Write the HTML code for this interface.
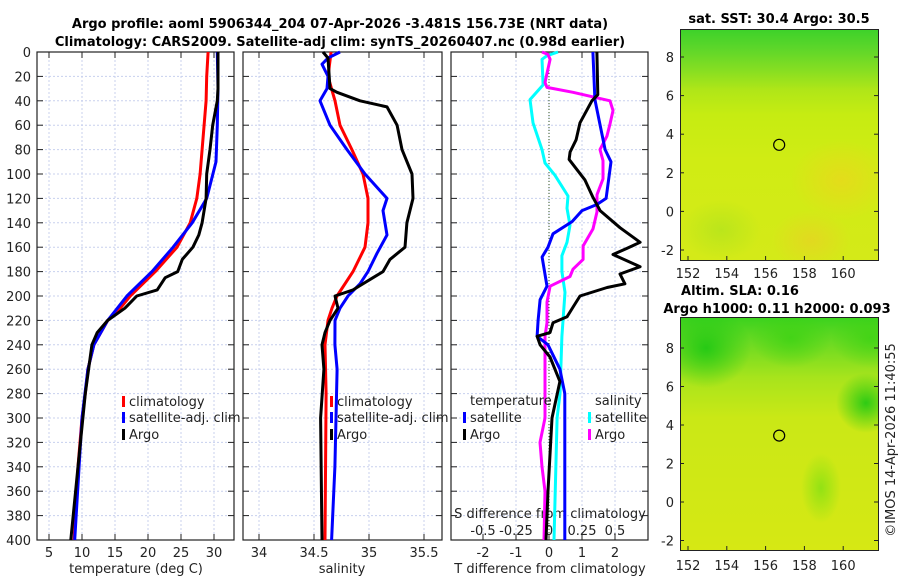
<!DOCTYPE html>
<html><head><meta charset="utf-8">
<style>
html,body{margin:0;padding:0;background:#fff;}
#root{position:relative;width:900px;height:580px;overflow:hidden;font-family:"DejaVu Sans","Liberation Sans",sans-serif;}
svg text{font-family:"DejaVu Sans","Liberation Sans",sans-serif;}
.map{position:absolute;border:1px solid #222;box-sizing:border-box;}
</style></head>
<body>
<div id="root">
<div class="map" style="left:680px;top:29px;width:199px;height:232px;
background:
radial-gradient(ellipse 50px 40px at 160px 150px, rgba(240,210,30,0.6), rgba(240,210,30,0)),
radial-gradient(ellipse 40px 30px at 130px 210px, rgba(240,200,40,0.5), rgba(240,200,40,0)),
radial-gradient(ellipse 40px 30px at 40px 200px, rgba(170,225,30,0.6), rgba(170,225,30,0)),
linear-gradient(to bottom,#3ed22a 0px,#5cd62a 18px,#86de22 40px,#b0e618 60px,#c6ec12 85px,#d0ec14 130px,#d4ea18 232px);"></div>
<div class="map" style="left:680px;top:317px;width:199px;height:234px;
background:
radial-gradient(ellipse 45px 40px at 25px 30px, rgba(30,200,20,0.9), rgba(30,200,20,0)),
radial-gradient(ellipse 30px 30px at 185px 85px, rgba(30,200,20,0.9), rgba(30,200,20,0)),
radial-gradient(ellipse 20px 35px at 140px 170px, rgba(140,225,20,0.9), rgba(140,225,20,0)),
radial-gradient(ellipse 40px 30px at 110px 20px, rgba(60,210,20,0.8), rgba(60,210,20,0)),
radial-gradient(ellipse 40px 30px at 190px 20px, rgba(60,210,20,0.8), rgba(60,210,20,0)),
linear-gradient(to bottom,#3cd21e 0px,#6cda22 25px,#a8e41c 60px,#cae816 100px,#d6e814 234px);"></div>
<svg id="chart" width="900" height="580" style="position:absolute;left:0;top:0"></svg>
</div>
<script>
// ---------- data ----------
const depthTicks=[0,20,40,60,80,100,120,140,160,180,200,220,240,260,280,300,320,340,360,380,400];
const tempTicks=[5,10,15,20,25,30];
const salTicks=[34,34.5,35,35.5];
const salTickLabels=["34","34.5","35","35.5"];
const tdiffTicks=[-2,-1,0,1,2];
const sdiffTickLabels=["-0.5","-0.25","0","0.25","0.5"];
const sdiffTicks=[-0.5,-0.25,0,0.25,0.5];

const tClimDepth=[0,20,40,60,80,100,120,140,160,180,200,210,220,240,260,280,300,340,400];
const tClim=[29.1,28.9,28.8,28.5,28.2,27.9,27.4,26.4,24.4,21.1,17.3,15.8,13.9,11.8,10.9,10.5,10.0,9.4,8.8];
const tSatDepth=[0,30,60,90,120,140,160,180,200,220,240,260,300,400];
const tSat=[30.5,30.6,30.5,30.3,28.9,26.7,23.8,20.6,16.8,13.9,11.8,10.9,10.0,8.9];
const tArgoDepth=[0,30,40,60,80,100,120,140,150,160,170,180,185,195,200,210,220,230,240,280,340,400];
const tArgo=[30.6,30.6,30.5,29.8,29.4,28.9,28.8,28.2,27.7,26.8,25.2,24.5,22.6,21.4,18.3,16.5,13.9,12.3,11.5,10.5,9.4,8.3];

const sClimDepth=[0,20,40,60,80,100,120,140,160,180,200,210,220,240,280,400];
const sClim=[34.655,34.627,34.691,34.736,34.845,34.945,34.991,34.991,34.964,34.855,34.709,34.664,34.627,34.6,34.61,34.6];
const sSatDepth=[0,5,10,20,30,40,60,80,100,120,130,150,165,180,190,200,210,220,240,260,300,340,400];
const sSat=[34.736,34.627,34.573,34.627,34.618,34.555,34.645,34.8,34.964,35.164,35.127,35.164,35.073,34.991,34.918,34.809,34.736,34.691,34.69,34.71,34.7,34.69,34.66];
const sArgoDepth=[0,5,30,33,40,45,60,80,100,120,140,160,170,180,185,195,200,210,220,230,240,260,300,400];
const sArgo=[34.582,34.627,34.645,34.709,34.918,35.164,35.255,35.3,35.391,35.4,35.345,35.327,35.191,35.127,35.036,34.855,34.691,34.718,34.645,34.6,34.573,34.59,34.56,34.573];

const dtSatDepth=[0,39,80,90,120,125,130,139,149,160,168,192,203,220,233,240,260,280,400];
const dtSat=[1.33,1.39,1.70,1.88,1.73,1.45,1.0,0.70,0.12,-0.03,-0.21,-0.06,-0.27,-0.33,-0.36,-0.03,0.33,0.48,0.48];
const dtArgoDepth=[0,35,40,58,72,82,88,105,119,130,144,156,161,166,176,182,190,193,200,209,217,222,230,233,240,250,270,300,360,400];
const dtArgo=[1.45,1.48,1.30,0.94,0.82,0.64,0.61,1.09,1.33,1.55,2.15,2.76,2.36,1.94,2.76,2.15,2.30,1.76,0.94,0.73,0.55,0.12,0.03,-0.36,-0.27,0.03,0.33,0.09,-0.03,-0.09];
const dsSatDepth=[0,3,6,27,39,58,80,91,101,118,128,142,156,167,180,197,233,280,300,400];
const dsSat=[0.068,-0.015,-0.053,-0.045,-0.144,-0.121,-0.053,-0.03,0.045,0.144,0.136,0.159,0.136,0.098,0.098,0.121,0.098,0.083,0.061,0.038];
const dsArgoDepth=[0,2,6,25,29,33,40,48,59,69,80,89,104,117,131,145,159,170,178,184,192,205,222,233,260,300,320,340,360,400];
const dsArgo=[-0.053,-0.008,0.008,-0.03,-0.015,0.182,0.462,0.485,0.462,0.439,0.386,0.409,0.409,0.364,0.364,0.333,0.258,0.258,0.182,0.159,0.008,-0.015,-0.015,-0.03,-0.03,-0.03,-0.068,-0.053,-0.03,-0.038];

const latTicks=[8,6,4,2,0,-2];
const lonTicks=[152,154,156,158,160];
const argoLon=[156.7];
const argoLat=[3.45];

// ---------- axes ----------
const TOP=52,BOT=540;
const yD=d=>TOP+(BOT-TOP)*d/400;
const xT=t=>49+(t-5)*6.6;
const xS=s=>259+(s-34)*110;
const xDT=v=>549+v*33;
const xDS=v=>549+v*132;
const lonX=l=>688+(l-152)*19.4;
const latY1=l=>57+(8-l)*19.3;
const latY2=l=>348+(8-l)*19.25;

const svg=document.getElementById('chart');
const NS='http://www.w3.org/2000/svg';
function el(tag,attrs,parent){const e=document.createElementNS(NS,tag);for(const k in attrs)e.setAttribute(k,attrs[k]);(parent||svg).appendChild(e);return e;}
function txt(x,y,s,attrs,parent){const t=el('text',Object.assign({x:x,y:y,'font-size':13,fill:'#222'},attrs||{}),parent);t.textContent=s;return t;}

const panels=[{l:37,r:234,name:'temperature-panel'},{l:243,r:442,name:'salinity-panel'},{l:451,r:648,name:'difference-panel'}];
panels.forEach((p,i)=>{
  const g=el('g',{});
  
  
  depthTicks.forEach(d=>{
    if(d>0&&d<400) el('line',{x1:p.l,x2:p.r,y1:yD(d),y2:yD(d),stroke:'#c8d0ee','stroke-width':1,'stroke-dasharray':'2,2'},g);
    el('line',{x1:p.l,x2:p.l+6,y1:yD(d),y2:yD(d),stroke:'#222'},g);
    el('line',{x1:p.r-6,x2:p.r,y1:yD(d),y2:yD(d),stroke:'#222'},g);
  });
  let xs=[];
  if(i===0) xs=tempTicks.map(xT);
  if(i===1) xs=salTicks.map(xS);
  if(i===2) xs=tdiffTicks.map(xDT);
  xs.forEach(x=>{
    el('line',{x1:x,x2:x,y1:TOP,y2:BOT,stroke:'#c8d0ee','stroke-width':1,'stroke-dasharray':'2,2'},g);
    el('line',{x1:x,x2:x,y1:BOT-6,y2:BOT,stroke:'#222'},g);
    el('line',{x1:x,x2:x,y1:TOP,y2:TOP+6,stroke:'#222'},g);
  });
  el('rect',{x:p.l,y:TOP,width:p.r-p.l,height:BOT-TOP,fill:'none',stroke:'#222','stroke-width':1.2},g);
});
depthTicks.forEach(d=>{txt(31,yD(d)+5,String(d),{'text-anchor':'end'});});
tempTicks.forEach(v=>txt(xT(v),557,String(v),{'text-anchor':'middle'}));
salTicks.forEach((v,i)=>txt(xS(v),557,salTickLabels[i],{'text-anchor':'middle'}));
tdiffTicks.forEach(v=>txt(xDT(v),557,String(v),{'text-anchor':'middle'}));
sdiffTicks.forEach((v,i)=>txt(xDS(v),535,sdiffTickLabels[i],{'text-anchor':'middle'}));
txt(136,573,'temperature (deg C)',{'text-anchor':'middle'});
txt(342,573,'salinity',{'text-anchor':'middle'});
txt(550,573,'T difference from climatology',{'text-anchor':'middle'});
txt(550,518,'S difference from climatology',{'text-anchor':'middle'});
el('line',{x1:549,x2:549,y1:TOP,y2:BOT,stroke:'#335522','stroke-width':1,'stroke-dasharray':'1,2'});

function line(depths,vals,fx,color,name){
  const d=depths.map((dd,i)=>(i?'L':'M')+fx(vals[i]).toFixed(1)+','+yD(dd).toFixed(1)).join(' ');
  const p=el('path',{d:d,fill:'none',stroke:color,'stroke-width':3,'stroke-linejoin':'round'});
  
  
}
line(tClimDepth,tClim,xT,'#ff0000','temp-climatology-line');
line(tSatDepth,tSat,xT,'#0000ff','temp-satellite-line');
line(tArgoDepth,tArgo,xT,'#000000','temp-argo-line');
line(sClimDepth,sClim,xS,'#ff0000','sal-climatology-line');
line(sSatDepth,sSat,xS,'#0000ff','sal-satellite-line');
line(sArgoDepth,sArgo,xS,'#000000','sal-argo-line');
line(dsSatDepth,dsSat,xDS,'#00ffff','sdiff-satellite-line');
line(dsArgoDepth,dsArgo,xDS,'#ff00ff','sdiff-argo-line');
line(dtSatDepth,dtSat,xDT,'#0000ff','tdiff-satellite-line');
line(dtArgoDepth,dtArgo,xDT,'#000000','tdiff-argo-line');

function legItem(x,y,color,label,name){
  const g=el('g',{});
  
  
  el('rect',{x:x,y:y-10,width:3,height:11,fill:color},g);
  txt(x+7,y,label,{},g);
}
legItem(122,406,'#ff0000','climatology','legend-temp-climatology');
legItem(122,422,'#0000ff','satellite-adj. clim','legend-temp-satellite');
legItem(122,439,'#000000','Argo','legend-temp-argo');
legItem(330,406,'#ff0000','climatology','legend-sal-climatology');
legItem(330,422,'#0000ff','satellite-adj. clim','legend-sal-satellite');
legItem(330,439,'#000000','Argo','legend-sal-argo');
txt(470,405,'temperature',{});
txt(595,405,'salinity',{});
legItem(463,422,'#0000ff','satellite','legend-tdiff-satellite');
legItem(463,439,'#000000','Argo','legend-tdiff-argo');
legItem(588,422,'#00ffff','satellite','legend-sdiff-satellite');
legItem(588,439,'#ff00ff','Argo','legend-sdiff-argo');

const t1=txt(340,28,'Argo profile: aoml 5906344_204 07-Apr-2026 -3.481S 156.73E (NRT data)',{'text-anchor':'middle','font-weight':'bold','fill':'#000'});


const t2=txt(340,46,'Climatology: CARS2009. Satellite-adj clim: synTS_20260407.nc (0.98d earlier)',{'text-anchor':'middle','font-weight':'bold','fill':'#000'});



txt(779,23,'sat. SST: 30.4 Argo: 30.5',{'text-anchor':'middle','font-weight':'bold','fill':'#000'});
txt(740,295,'Altim. SLA: 0.16',{'text-anchor':'middle','font-weight':'bold','fill':'#000'});
txt(777,313,'Argo h1000: 0.11 h2000: 0.093',{'text-anchor':'middle','font-weight':'bold','fill':'#000'});
latTicks.forEach(l=>{
  txt(674,latY1(l)+5,String(l),{'text-anchor':'end'});
  txt(674,latY2(l)+5,String(l),{'text-anchor':'end'});
  [latY1(l),latY2(l)].forEach(y=>{
    el('line',{x1:680,x2:684,y1:y,y2:y,stroke:'#222'});
    el('line',{x1:874,x2:879,y1:y,y2:y,stroke:'#222'});
  });
});
lonTicks.forEach(l=>{
  txt(lonX(l),278,String(l),{'text-anchor':'middle'});
  txt(lonX(l),570,String(l),{'text-anchor':'middle'});
  el('line',{x1:lonX(l),x2:lonX(l),y1:256,y2:260,stroke:'#222'});
  el('line',{x1:lonX(l),x2:lonX(l),y1:546,y2:550,stroke:'#222'});
});
argoLon.forEach((lo,i)=>{
  const c1=el('circle',{cx:lonX(lo),cy:latY1(argoLat[i]),r:5.5,fill:'none',stroke:'#000','stroke-width':1.2});
  
  
  const c2=el('circle',{cx:lonX(lo),cy:latY2(argoLat[i]),r:5.5,fill:'none',stroke:'#000','stroke-width':1.2});
  
  
});
const cr=txt(0,0,'©IMOS 14-Apr-2026 11:40:55',{'text-anchor':'middle',transform:'translate(895,440) rotate(-90)'});


</script>
</body></html>
